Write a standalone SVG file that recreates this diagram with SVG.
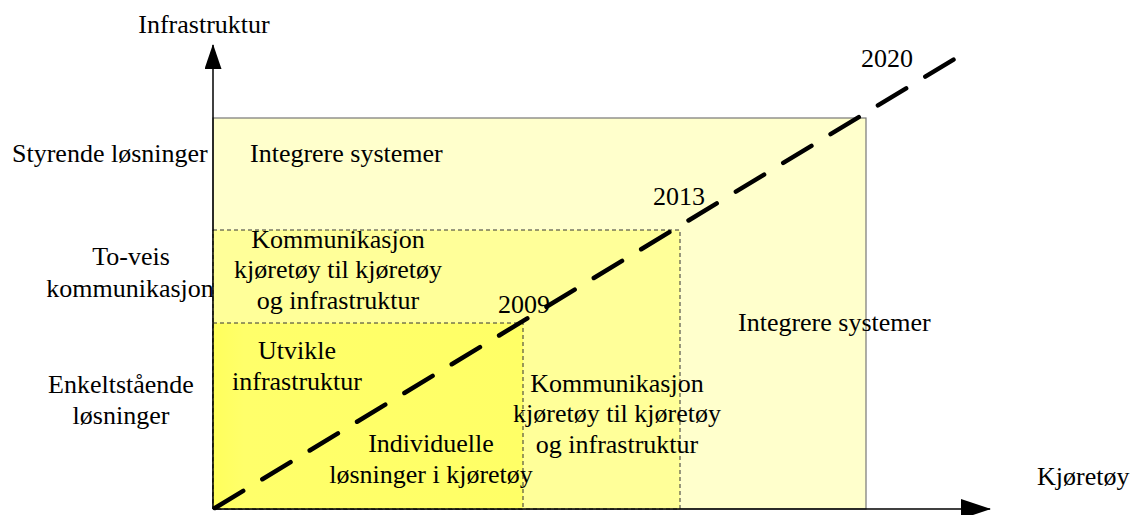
<svg xmlns="http://www.w3.org/2000/svg" width="1135" height="515" viewBox="0 0 1135 515">
<style>
text{font-family:"Liberation Serif","Times New Roman",serif;font-size:26px;fill:#000}
.m{text-anchor:middle}
.dr{stroke:#333;stroke-width:1;stroke-dasharray:4 3}
.ax{stroke:#000;stroke-width:1.5;fill:none}
</style>
<defs>
<linearGradient id="g1" x1="0" y1="0" x2="1" y2="0">
<stop offset="0" stop-color="#FFFF5C"/>
<stop offset="0.1" stop-color="#FFFF6A"/>
<stop offset="1" stop-color="#FFFF66"/>
</linearGradient>
<marker id="ahy" viewBox="0 0 25 17" refX="24" refY="8.5" markerWidth="25" markerHeight="17" markerUnits="userSpaceOnUse" orient="auto">
<path d="M0,0 L25,8.5 L0,17 Z" fill="#000"/>
</marker>
<marker id="ahx" viewBox="0 0 30 20" refX="29" refY="10" markerWidth="30" markerHeight="20" markerUnits="userSpaceOnUse" orient="auto">
<path d="M0,0 L30,10 L0,20 Z" fill="#000"/>
</marker>
</defs>
<g id="outer">
<rect x="213" y="118" width="653" height="391" fill="#FFFFCC" stroke="#777" stroke-width="1.2"/>
<text x="250" y="162">Integrere systemer</text>
<text x="738" y="331">Integrere systemer</text>
</g>
<g id="middle">
<rect x="213" y="230" width="467" height="279" fill="#FFFF99" class="dr"/>
<text class="m" x="338" y="248">Kommunikasjon</text>
<text class="m" x="338" y="278">kjøretøy til kjøretøy</text>
<text class="m" x="338" y="309">og infrastruktur</text>
</g>
<g id="inner">
<rect x="213" y="323" width="310" height="186" fill="url(#g1)" class="dr"/>
<text class="m" x="297" y="359">Utvikle</text>
<text class="m" x="297" y="390">infrastruktur</text>
<text class="m" x="431" y="452">Individuelle</text>
<text class="m" x="431" y="483">løsninger i kjøretøy</text>
</g>
<g id="middle-right">
<text class="m" x="617" y="392">Kommunikasjon</text>
<text class="m" x="617" y="422">kjøretøy til kjøretøy</text>
<text class="m" x="617" y="453">og infrastruktur</text>
</g>
<g id="connectors">
<line x1="213" y1="509" x2="213" y2="45" class="ax" marker-end="url(#ahy)"/>
<line x1="213" y1="509" x2="990" y2="509" class="ax" marker-end="url(#ahx)"/>
<line x1="215" y1="508" x2="961" y2="55" stroke="#000" stroke-width="4.5" stroke-dasharray="33 22.4" stroke-linecap="round"/>
</g>
<g id="labels">
<text class="m" x="204" y="33">Infrastruktur</text>
<text x="12" y="162">Styrende løsninger</text>
<text class="m" x="131" y="265">To-veis</text>
<text class="m" x="130" y="297">kommunikasjon</text>
<text class="m" x="121" y="393">Enkeltstående</text>
<text class="m" x="121" y="424">løsninger</text>
<text x="1037" y="485">Kjøretøy</text>
<text x="498" y="313">2009</text>
<text x="653" y="205">2013</text>
<text x="861" y="67">2020</text>
</g>
</svg>
